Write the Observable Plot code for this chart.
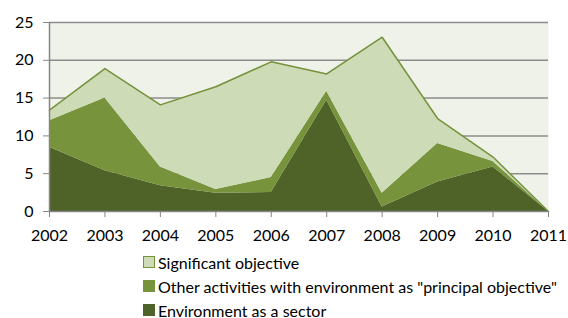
<!DOCTYPE html>
<html>
<head>
<meta charset="utf-8">
<script src="https://cdn.jsdelivr.net/npm/d3@7"></script>
<script src="https://cdn.jsdelivr.net/npm/@observablehq/plot@0.6"></script>
<style>
  html, body { margin: 0; padding: 0; background: #fff; }
  body { width: 568px; height: 318px; overflow: hidden; font-family: Lato, "Open Sans", sans-serif; }
  #chart svg { display: block; }
  .legend { margin-left: 143px; font-size: 16px; color: #000; }
  .legend .row { height: 24px; display: flex; align-items: center; }
  .legend .sw { width: 12px; height: 12px; margin-right: 3px; box-sizing: border-box; border: 1px solid #76923C; }
</style>
</head>
<body>
<div id="chart"></div>
<div class="legend" id="legend"></div>
<script>
const years = [2002, 2003, 2004, 2005, 2006, 2007, 2008, 2009, 2010, 2011];
const seriesNames = ["Significant objective", "Other activities with environment as \"principal objective\"", "Environment as a sector"];
const environmentSector = [8.5, 5.4, 3.4, 2.4, 2.5, 14.7, 0.6, 3.9, 5.9, 0];
const otherPrincipal = [3.5, 9.6, 2.5, 0.5, 2.0, 1.2, 1.8, 5.1, 0.7, 0];
const significant = [1.4, 3.9, 8.2, 13.6, 15.3, 2.3, 20.65, 3.3, 0.6, 0];
const yTicks = [0, 5, 10, 15, 20, 25];
const colors = ["#CDDBB7", "#77933C", "#4F6228"];

const data = [];
years.forEach((yr, i) => {
  data.push({year: yr, series: seriesNames[2], value: environmentSector[i]});
  data.push({year: yr, series: seriesNames[1], value: otherPrincipal[i]});
  data.push({year: yr, series: seriesNames[0], value: significant[i]});
});
const totals = years.map((yr, i) => ({year: yr, total: environmentSector[i] + otherPrincipal[i] + significant[i]}));
const order = [seriesNames[2], seriesNames[1], seriesNames[0]];

const chart = Plot.plot({
  width: 568,
  height: 250,
  marginLeft: 49,
  marginRight: 20,
  marginTop: 22,
  marginBottom: 39,
  style: {fontFamily: "Lato, 'Open Sans', sans-serif", fontSize: "16px", color: "#000", background: "#fff"},
  x: {domain: [2002, 2011], label: null},
  y: {domain: [0, 25], label: null},
  color: {domain: seriesNames, range: colors},
  marks: [
    Plot.frame({fill: "#EFF2E9", stroke: null}),
    Plot.ruleY(yTicks.filter(d => d > 0), {stroke: "#8C8C8C", strokeWidth: 1.5}),
    Plot.areaY(data, Plot.stackY({x: "year", y: "value", z: "series", fill: "series", order})),
    Plot.lineY(totals, {x: "year", y: "total", stroke: "#76923C", strokeWidth: 1.5}),
    Plot.ruleX([2002], {stroke: "#868686", strokeWidth: 1.5}),
    Plot.ruleY([0], {stroke: "#868686", strokeWidth: 1.5}),
    Plot.axisY({ticks: yTicks, tickSize: 6, tickPadding: 10, stroke: "#868686", tickFormat: d => String(d), fontSize: 16}),
    Plot.axisX({ticks: years, tickSize: 6, tickPadding: 12, stroke: "#868686", tickFormat: d => String(d), fontSize: 16})
  ]
});
document.getElementById("chart").appendChild(chart);

const legend = document.getElementById("legend");
seriesNames.forEach((name, i) => {
  const row = document.createElement("div");
  row.className = "row";
  const sw = document.createElement("span");
  sw.className = "sw";
  sw.style.background = colors[i];
  if (i > 0) sw.style.borderColor = colors[i];
  const t = document.createElement("span");
  t.textContent = name;
  row.appendChild(sw);
  row.appendChild(t);
  legend.appendChild(row);
});
</script>
</body>
</html>
